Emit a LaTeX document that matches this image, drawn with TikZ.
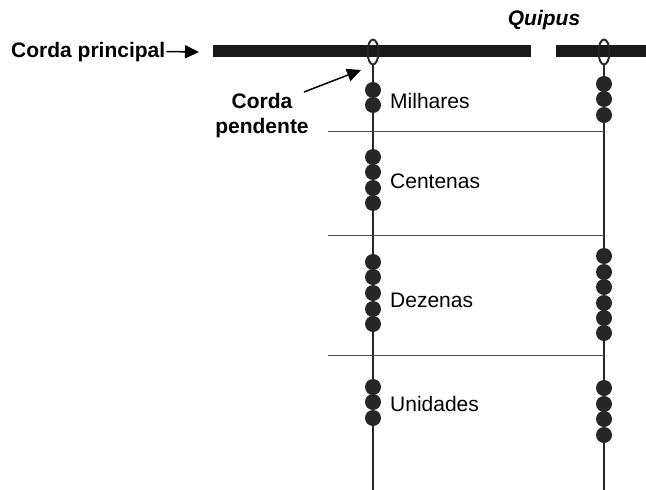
\documentclass[tikz,border=0pt]{standalone}
\usepackage{fontspec}
\setmainfont{Liberation Sans}
\usetikzlibrary{arrows.meta}

\begin{document}
\begin{tikzpicture}[x = 1pt, y = -1pt,
 pendant/.style = {line width = 2.8pt, draw = black!85},
 knot/.style = {line width = 1.9pt, draw = black!85},
 bead/.style = {circle, fill = black!85, inner sep = 0pt, minimum size = 16pt},
 divider/.style = {line width = 0.9pt, draw = black!70},
 bigtxt/.style = {font = \bfseries\fontsize{21}{25}\selectfont, inner sep = 0pt},
 placetxt/.style = {font = \fontsize{21}{25}\selectfont, inner sep = 0pt, anchor = base west},
 pointer/.style = {line width = 1.5pt, -{Triangle[length = 14pt, width = 13pt]}}]
\useasboundingbox (0, 0) rectangle (646, 490);

% main cord (two pieces)
\fill[black!90] (213, 45) rectangle (531, 57);
\fill[black!90] (556, 45) rectangle (646, 57);

\node[bigtxt, anchor = base west] (cp) at (11, 57) {Corda principal};
\coordinate (cptip) at (199, 52);
\draw[pointer] (cp.east) ++(1, 0) coordinate (cptail) -- (cptip);

\node[bigtxt, font = \bfseries\itshape\fontsize{21}{25}\selectfont, anchor = base] (quipus) at (544, 25) {Quipus};

% pendant cords
\coordinate (top1) at (373, 64);
\coordinate (end1) at (373, 490);
\coordinate (top2) at (604, 64);
\coordinate (end2) at (604, 490);
\draw[knot] (373, 52) ellipse [x radius = 5.5, y radius = 12.5];
\draw[knot] (604, 52) ellipse [x radius = 5.5, y radius = 12.5];
\draw[pendant] (top1) -- (end1);
\draw[pendant] (top2) -- (end2);

\node[bigtxt, align = center, anchor = base] (pend) at (262, 133) {Corda\\[0pt]pendente};
\coordinate (ptail) at (304, 92);
\coordinate (phead) at (361, 70);
\draw[pointer] (ptail) -- (phead);

% place dividers
\coordinate (d1a) at (328, 131); \coordinate (d1b) at (604, 131);
\coordinate (d2a) at (328, 235); \coordinate (d2b) at (604, 235);
\coordinate (d3a) at (328, 355); \coordinate (d3b) at (604, 355);
\draw[divider] (d1a) -- (d1b);
\draw[divider] (d2a) -- (d2b);
\draw[divider] (d3a) -- (d3b);

% beads
\foreach \y [count = \i] in {90, 105, 157, 172, 188, 203, 262, 277, 293, 309, 324, 387, 402, 418}
 \node[bead] (ba\i) at (373, \y) {};
\foreach \y [count = \i] in {84, 99, 115, 256, 272, 287, 303, 318, 333, 388, 404, 419, 435}
 \node[bead] (bb\i) at (604, \y) {};

\node[placetxt] (mil) at (390, 108) {Milhares};
\node[placetxt] (cen) at (390, 188) {Centenas};
\node[placetxt] (dez) at (390, 307) {Dezenas};
\node[placetxt] (uni) at (390, 411) {Unidades};
\end{tikzpicture}
\end{document}
